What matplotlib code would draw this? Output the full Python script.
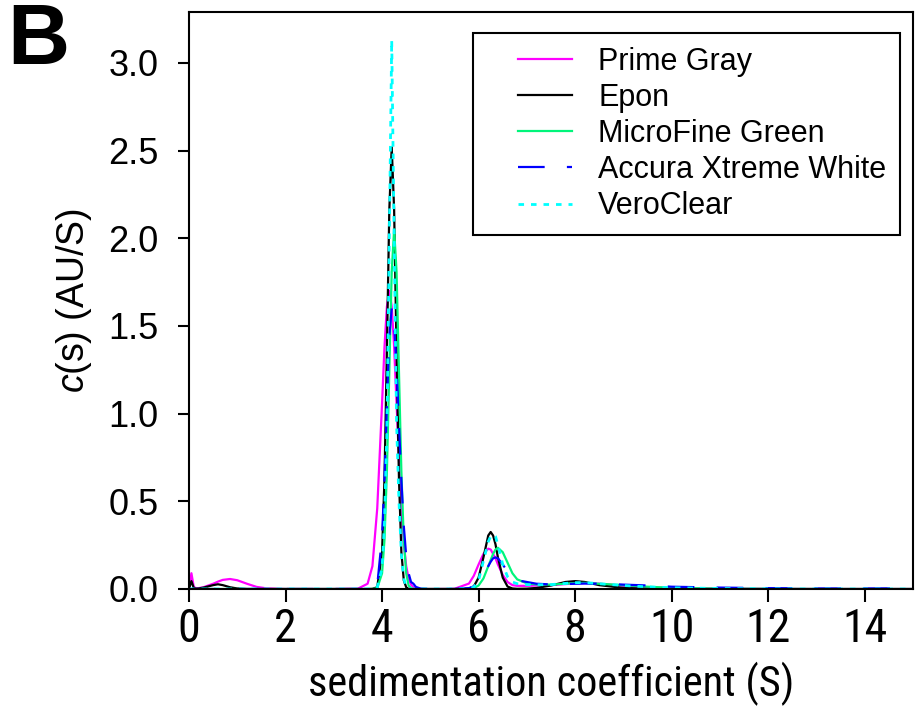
import matplotlib
matplotlib.use("Agg")
import matplotlib.pyplot as plt
from matplotlib import font_manager
from matplotlib.legend_handler import HandlerLine2D

# sedimentation coefficient grid (S), shared by all curves
s_grid = [0.0, 0.05, 0.1, 0.15, 0.2,
          0.3, 0.4, 0.5, 0.6, 0.7,
          0.85, 1.0, 1.2, 1.4, 1.6,
          2.0, 3.0, 3.5, 3.7, 3.8,
          3.9, 4.0, 4.05, 4.1, 4.15,
          4.2, 4.25, 4.3, 4.35, 4.4,
          4.45, 4.5, 4.55, 4.6, 4.65,
          4.7, 4.8, 5.0, 5.5, 5.8,
          5.9, 6.0, 6.1, 6.2, 6.25,
          6.3, 6.35, 6.4, 6.5, 6.6,
          6.7, 6.8, 7.0, 7.2, 7.5,
          7.8, 8.0, 8.2, 8.5, 9.0,
          9.5, 10.0, 11.0, 12.0, 13.0,
          14.0, 15.0]

prime_gray = [0.0, 0.09, 0.01, 0.005, 0.005,
              0.01, 0.02, 0.03, 0.042, 0.052,
              0.057, 0.05, 0.03, 0.012, 0.004,
              0.0, 0.0, 0.002, 0.03, 0.13,
              0.46, 1.06, 1.38, 1.61, 1.70,
              1.61, 1.38, 1.06, 0.74, 0.46,
              0.26, 0.13, 0.06, 0.025, 0.01,
              0.004, 0.0, 0.0, 0.001, 0.031,
              0.075, 0.14, 0.20, 0.23, 0.225,
              0.20, 0.175, 0.14, 0.08, 0.04,
              0.022, 0.018, 0.018, 0.02, 0.022,
              0.028, 0.032, 0.034, 0.03, 0.018,
              0.01, 0.005, 0.002, 0.001, 0.0,
              0.0, 0.0]

epon = [0.0, 0.045, 0.005, 0.002, 0.003,
        0.008, 0.015, 0.022, 0.027, 0.022,
        0.01, 0.003, 0.0, 0.0, 0.0,
        0.0, 0.0, 0.0, 0.0, 0.001,
        0.01, 0.21, 0.63, 1.36, 2.16,
        2.52, 2.16, 1.36, 0.63, 0.21,
        0.05, 0.01, 0.0, 0.0, 0.0,
        0.0, 0.0, 0.0, 0.0, 0.002,
        0.014, 0.065, 0.18, 0.305, 0.325,
        0.305, 0.255, 0.18, 0.065, 0.014,
        0.003, 0.001, 0.002, 0.006, 0.02,
        0.04, 0.045, 0.04, 0.022, 0.006,
        0.002, 0.0, 0.0, 0.0, 0.0,
        0.0, 0.0]

microfine = [0.0, 0.0, 0.0, 0.0, 0.0,
             0.0, 0.0, 0.0, 0.0, 0.0,
             0.0, 0.0, 0.0, 0.0, 0.0,
             0.0, 0.0, 0.0, 0.0, 0.0,
             0.005, 0.09, 0.28, 0.67, 1.24,
             1.81, 2.05, 1.81, 1.24, 0.67,
             0.28, 0.09, 0.02, 0.005, 0.0,
             0.0, 0.0, 0.0, 0.0, 0.001,
             0.005, 0.02, 0.06, 0.13, 0.165,
             0.20, 0.225, 0.235, 0.21, 0.15,
             0.09, 0.055, 0.032, 0.026, 0.025,
             0.03, 0.034, 0.035, 0.03, 0.022,
             0.013, 0.007, 0.002, 0.001, 0.0,
             0.0, 0.0]

accura = [0.0, 0.0, 0.0, 0.0, 0.0,
          0.0, 0.0, 0.0, 0.0, 0.0,
          0.0, 0.0, 0.0, 0.0, 0.0,
          0.0, 0.0, 0.0, 0.0, 0.002,
          0.02, 0.30, 0.63, 1.05, 1.44,
          1.60, 1.51, 1.26, 0.94, 0.62,
          0.36, 0.19, 0.09, 0.04, 0.03,
          0.012, 0.002, 0.0, 0.0, 0.005,
          0.015, 0.04, 0.08, 0.13, 0.155,
          0.175, 0.18, 0.175, 0.14, 0.10,
          0.07, 0.05, 0.04, 0.03, 0.026,
          0.028, 0.03, 0.031, 0.03, 0.025,
          0.02, 0.013, 0.008, 0.005, 0.003,
          0.003, 0.004]

veroclear = [0.0, 0.0, 0.0, 0.0, 0.0,
             0.0, 0.0, 0.0, 0.0, 0.0,
             0.0, 0.0, 0.0, 0.0, 0.0,
             0.0, 0.0, 0.0, 0.0, 0.0,
             0.01, 0.12, 0.38, 0.90, 2.00,
             3.13, 2.00, 0.95, 0.50, 0.20,
             0.06, 0.01, 0.0, 0.0, 0.0,
             0.0, 0.0, 0.0, 0.0, 0.003,
             0.01, 0.05, 0.16, 0.27, 0.30,
             0.31, 0.30, 0.25, 0.14, 0.07,
             0.04, 0.03, 0.025, 0.024, 0.025,
             0.032, 0.036, 0.037, 0.03, 0.02,
             0.012, 0.007, 0.003, 0.001, 0.0,
             0.0, 0.0]

labels = ["Prime Gray", "Epon", "MicroFine Green", "Accura Xtreme White", "VeroClear"]
x_ticks = [0, 2, 4, 6, 8, 10, 12, 14]
y_ticks = [0.0, 0.5, 1.0, 1.5, 2.0, 2.5, 3.0]

# fonts: Arial-like everywhere, a narrow face for the x axis if one is around
names = set(f.name for f in font_manager.fontManager.ttflist)
narrow = "Liberation Sans"
for cand in ["Liberation Sans Narrow", "Arial Narrow", "Arimo Narrow", "Roboto Condensed",
             "PT Sans Narrow", "Archivo Narrow", "Pragati Narrow", "Open Sans Condensed"]:
    if cand in names:
        narrow = cand
        break
plt.rcParams['font.family'] = ['Liberation Sans', 'DejaVu Sans']
plt.rcParams['mathtext.fontset'] = 'custom'
plt.rcParams['mathtext.rm'] = 'Liberation Sans'
plt.rcParams['mathtext.it'] = 'Liberation Sans:italic'


class ShiftedLine(HandlerLine2D):
    # draw the legend sample only over the right part of the handle box
    def __init__(self, shift, **kw):
        super().__init__(**kw)
        self.shift = shift

    def create_artists(self, legend, orig_handle, xdescent, ydescent, width, height, fontsize, trans):
        return super().create_artists(legend, orig_handle, xdescent - self.shift, ydescent,
                                      width - self.shift, height, fontsize, trans)


fig = plt.figure(figsize=(9.17, 7.10), dpi=100)
ax = fig.add_axes([189 / 917, 1 - 589 / 710, (913 - 189) / 917, (589 - 12) / 710])

lw = 1.6
lines = []
lines += ax.plot(s_grid, prime_gray, color='#FF00FF', lw=lw, label=labels[0])
lines += ax.plot(s_grid, epon, color='black', lw=lw, label=labels[1])
lines += ax.plot(s_grid, microfine, color='#00F57A', lw=lw, label=labels[2])
lines += ax.plot(s_grid, accura, color='#0000FF', lw=lw, dashes=(12, 10), label=labels[3])
lines += ax.plot(s_grid, veroclear, color='#00FFFF', lw=2, dashes=(2, 2.5), label=labels[4])

ax.set_xlim(0, 15)
ax.set_ylim(0, 3.29)
ax.set_xticks(x_ticks)
ax.set_yticks(y_ticks)
ax.set_yticklabels(["%.1f" % v for v in y_ticks], fontsize=26)
condensed = narrow != "Liberation Sans"
ax.set_xticklabels([str(v) for v in x_ticks], fontsize=(33 if condensed else 29), family=narrow)
ax.tick_params(axis='y', direction='out', length=8, width=1.5, pad=14)
ax.tick_params(axis='x', direction='out', length=9, width=1.5, pad=4)
for sp in ax.spines.values():
    sp.set_linewidth(1.5)

ax.set_xlabel("sedimentation coefficient (S)", fontsize=(30.5 if condensed else 28),
              family=narrow, labelpad=8)
ax.set_ylabel("$\\it{c}$(s) (AU/S)", fontsize=27, labelpad=10)

leg = ax.legend(loc='upper right', bbox_to_anchor=(900 / 917, 1 - 33 / 710),
                bbox_transform=fig.transFigure, fontsize=22, frameon=True,
                fancybox=False, framealpha=1, edgecolor='black',
                handlelength=2.78, handletextpad=0.85, borderpad=0.45,
                labelspacing=0.2, borderaxespad=0,
                handler_map={ln: ShiftedLine(22.3) for ln in lines})
leg.get_frame().set_linewidth(1.5)

fig.text(7 / 917, 1 - 64 / 710, "B", fontsize=62, fontweight='bold')

fig.savefig("out.png", dpi=100)
